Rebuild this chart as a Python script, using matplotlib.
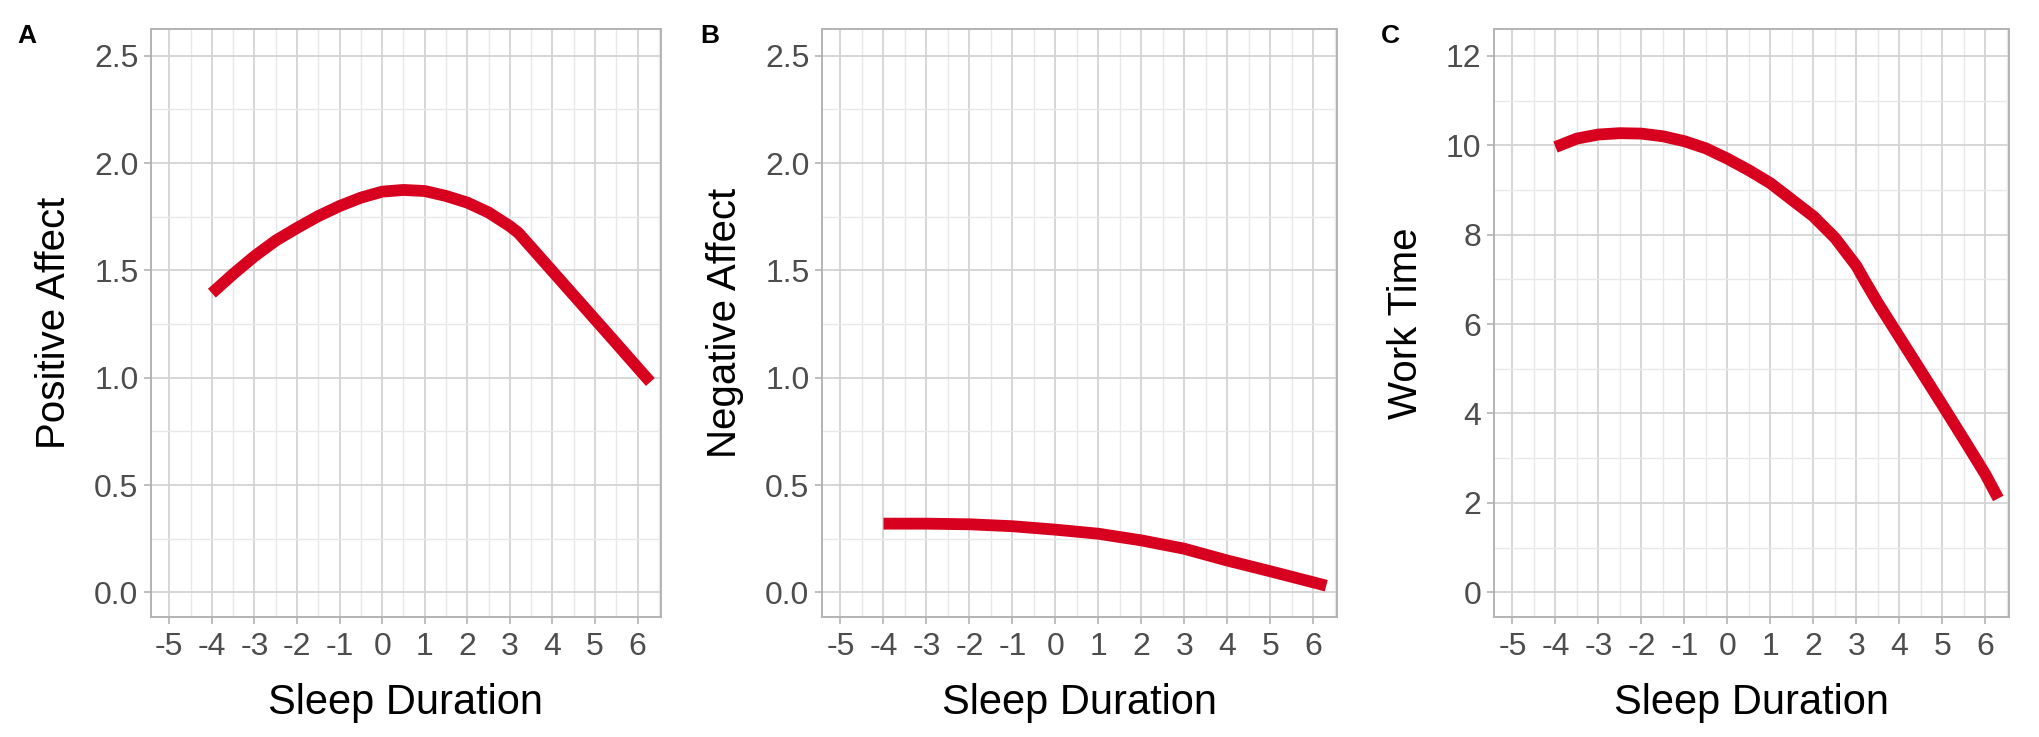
import numpy as np
import matplotlib
matplotlib.use("Agg")
import matplotlib.pyplot as plt
from matplotlib.ticker import MultipleLocator

plt.rcParams['font.family'] = ['Liberation Sans', 'DejaVu Sans']

# values at half-unit steps of sleep duration
sleep_a = [-4, -3.5, -3, -2.5, -2, -1.5, -1, -0.5, 0, 0.5, 1, 1.5, 2, 2.5, 3, 3.2, 3.5, 4, 4.5, 5, 5.5, 6, 6.3]
positive_affect = [1.394, 1.483, 1.566, 1.639, 1.698, 1.753, 1.80, 1.839, 1.867, 1.875, 1.87, 1.847,
                   1.816, 1.77, 1.706, 1.675, 1.608, 1.496, 1.384, 1.272, 1.16, 1.047, 0.98]

sleep_b = [-4, -3, -2, -1, 0, 1, 2, 3, 4, 5, 6.3]
negative_affect = [0.320, 0.320, 0.317, 0.308, 0.292, 0.273, 0.242, 0.203, 0.148, 0.098, 0.031]

sleep_c = [-4, -3.5, -3, -2.5, -2, -1.5, -1, -0.5, 0, 0.5, 1, 1.5, 2, 2.5, 3, 3.2, 3.5, 4, 4.5, 5, 5.5, 6, 6.3]
work_time = [9.96, 10.15, 10.24, 10.27, 10.26, 10.2, 10.09, 9.93, 9.70, 9.44, 9.15, 8.78,
             8.41, 7.93, 7.30, 6.96, 6.47, 5.71, 4.95, 4.19, 3.42, 2.64, 2.10]

x_ticks = list(range(-5, 7))
affect_ticks = [0.0, 0.5, 1.0, 1.5, 2.0, 2.5]
work_ticks = [0, 2, 4, 6, 8, 10, 12]

panels = [
    ("A", "Positive Affect", sleep_a, positive_affect, affect_ticks, 0.25, "{:.1f}"),
    ("B", "Negative Affect", sleep_b, negative_affect, affect_ticks, 0.25, "{:.1f}"),
    ("C", "Work Time", sleep_c, work_time, work_ticks, 1, "{:.0f}"),
]

W, H = 2040, 737
fig = plt.figure(figsize=(W / 100, H / 100), dpi=100)

# axes boxes in pixels: left, right, top, bottom
boxes = [(151, 661, 29, 617), (822, 1337, 29, 617), (1494, 2009, 29, 617)]
letter_x = [27, 710, 1390]

red = '#d7001e'
border = '#b3b3b3'

for (letter, ylab, xs, ys, yticks, yminor, fmt), (l, r, t, b), lx in zip(panels, boxes, letter_x):
    ax = fig.add_axes([l / W, 1 - b / H, (r - l) / W, (b - t) / H])
    ax.plot(xs, ys, color=red, lw=8.5, solid_capstyle='butt', solid_joinstyle='round', zorder=3)

    ax.set_xlim(-5.43, 6.55)
    span = yticks[-1] - yticks[0]
    ax.set_ylim(yticks[0] - 0.046 * span, yticks[-1] + 0.05 * span)

    ax.set_xticks(x_ticks)
    ax.set_xticklabels([str(v) for v in x_ticks])
    ax.set_yticks(yticks)
    ax.set_yticklabels([fmt.format(v) for v in yticks])
    ax.xaxis.set_minor_locator(MultipleLocator(0.5))
    ax.yaxis.set_minor_locator(MultipleLocator(yminor))

    ax.grid(which='major', color='#d3d3d3', lw=1.3, zorder=0)
    ax.grid(which='minor', color='#e8e8e8', lw=1.0, zorder=0)
    ax.set_axisbelow(True)
    for s in ax.spines.values():
        s.set_color(border)
        s.set_linewidth(1.4)

    ax.tick_params(which='major', length=5, width=1.2, color=border,
                   labelsize=23, labelcolor='#4d4d4d')
    ax.tick_params(axis='x', pad=6)
    ax.tick_params(axis='y', pad=4)
    ax.tick_params(which='minor', length=0)

    ax.set_xlabel("Sleep Duration", fontsize=30, color='black', labelpad=15)
    ax.set_ylabel(ylab, fontsize=29, color='black', labelpad=15)

    fig.text(lx / W, 1 - 36 / H, letter, fontsize=19, fontweight='bold',
             ha='center', va='center')

fig.savefig("out.png", dpi=100)
